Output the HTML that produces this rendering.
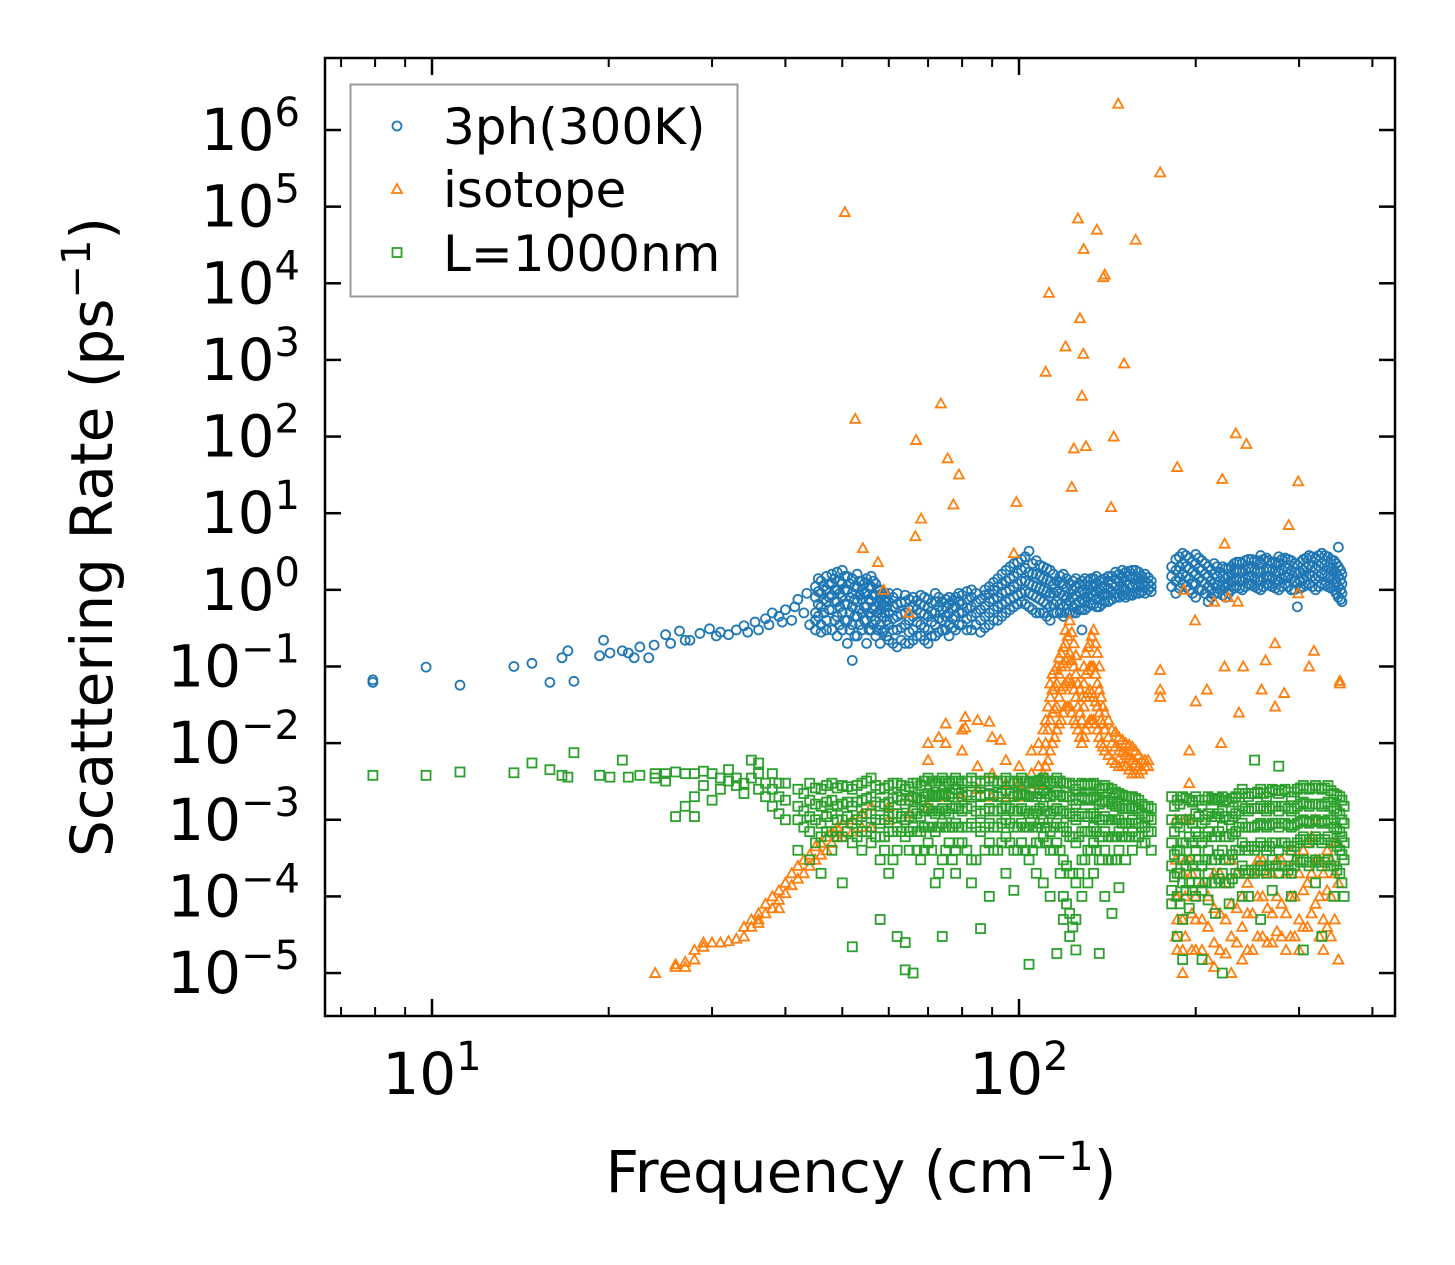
<!DOCTYPE html>
<html><head><meta charset="utf-8">
<style>
html,body{margin:0;padding:0;background:#fff;}
svg{display:block;font-family:"DejaVu Sans","Liberation Sans",sans-serif;}
</style></head>
<body>
<svg id="chart" width="1455" height="1265" viewBox="0 0 1455 1265" xmlns="http://www.w3.org/2000/svg">
<rect width="1455" height="1265" fill="#fff"/>
<g id="marks"></g>
<g id="axes"></g>
<g>
<rect x="350.5" y="84.5" width="387" height="212" fill="#fff" fill-opacity="0.8" stroke="#999" stroke-width="2"/>
<circle cx="397" cy="126" r="4.5" fill="none" stroke="#1f77b4" stroke-width="1.8"/>
<text x="443" y="144" font-size="50">3ph(300K)</text>
<polygon points="397,184 402,193 392,193" fill="none" stroke="#ff7f0e" stroke-width="1.8"/>
<text x="443" y="207" font-size="50">isotope</text>
<rect x="392.5" y="248" width="9" height="9" fill="none" stroke="#2ca02c" stroke-width="1.8"/>
<text x="443" y="271" font-size="50">L=1000nm</text>
</g>
<text x="861" y="1192" font-size="58" text-anchor="middle">Frequency (cm<tspan font-size="40" dy="-22">−1</tspan><tspan dy="22">)</tspan></text>
<text transform="translate(112,537) rotate(-90)" font-size="58" text-anchor="middle">Scattering Rate (ps<tspan font-size="40" dy="-22">−1</tspan><tspan dy="22">)</tspan></text>
</svg>
<script>
// ---- data ----
const xTickValues = [10, 100];
const xTickLabels = ["1", "2"];
const xMinorValues = [7,8,9,20,30,40,50,60,70,80,90,200,300,400];
const yTickValues = [1e6,1e5,1e4,1e3,1e2,1e1,1,1e-1,1e-2,1e-3,1e-4,1e-5];
const yTickLabels = ["6","5","4","3","2","1","0","−1","−2","−3","−4","−5"];

const blueSparse = [[7.93,0.0667],[7.93,0.062],[9.77,0.098],[11.16,0.057],[13.79,0.1],[14.8,0.11],[15.88,0.062],[16.65,0.13],[17.04,0.16],[17.45,0.064],[19.3,0.138],[19.6,0.22],[20.1,0.15],[21.1,0.16],[21.6,0.15],[22.1,0.13],[22.6,0.18],[23.4,0.13],[23.9,0.19],[25,0.26],[25.5,0.2],[26.4,0.29],[27,0.22],[27.5,0.22],[28.6,0.27],[29.7,0.31],[30.5,0.25],[31,0.28],[32,0.26],[33,0.3],[34,0.34],[34.5,0.28],[35.5,0.38],[36,0.3],[37,0.42],[37.5,0.35],[38,0.5],[39,0.45],[39.5,0.38],[40,0.55],[41,0.4],[41.5,0.6],[42,0.75],[43,0.5],[43.5,0.9],[44,0.35]];
const blueDense = [[45,[0.3,0.5,0.8,1.1,0.4]],[46,[0.35,0.6,0.9,1.3,0.28]],[47,[0.4,0.7,1.0,1.5,0.3]],[48,[0.3,0.55,0.85,1.2,1.6]],[49,[0.25,0.45,0.7,1.0,1.7]],[50,[0.3,0.5,0.8,1.2,1.8]],[51,[0.2,0.4,0.65,1.0,1.5]],[52,[0.12,0.35,0.6,0.9,1.4]],[53,[0.25,0.45,0.7,1.1,1.6]],[54,[0.3,0.5,0.75,1.0,1.3]],[55,[0.2,0.4,0.6,0.9,1.4]],[56,[0.3,0.45,0.7,1.1,1.5]],[57,[0.25,0.4,0.6,0.85,1.2]],[58,[0.2,0.35,0.55,0.8,1.0]],[59,[0.3,0.5,0.7,0.9]],[60,[0.22,0.35,0.5,0.7,0.9]],[62,[0.18,0.3,0.45,0.65,0.9]],[64,[0.2,0.35,0.5,0.7,0.85]],[66,[0.22,0.3,0.45,0.6,0.8]],[68,[0.25,0.35,0.5,0.65,0.85]],[70,[0.2,0.3,0.45,0.6,0.75]],[72,[0.25,0.35,0.5,0.7,0.9]],[74,[0.3,0.4,0.55,0.7]],[76,[0.25,0.35,0.5,0.65,0.8]],[78,[0.3,0.45,0.6,0.8]],[80,[0.35,0.5,0.65,0.85]],[83,[0.3,0.45,0.6,0.8,1.0]],[86,[0.28,0.4,0.55,0.75]],[89,[0.35,0.5,0.7,0.9,1.1]],[92,[0.4,0.6,0.8,1.1,1.4]],[95,[0.5,0.7,0.95,1.3,1.8]],[98,[0.6,0.8,1.1,1.5,2.2]],[101,[0.7,0.9,1.3,1.8,2.5]],[104,[0.6,0.9,1.2,1.7,3.2]],[107,[0.5,0.8,1.1,1.6,2.4]],[110,[0.5,0.7,1.0,1.4,2.0]],[113,[0.4,0.6,0.9,1.3,1.8]],[116,[0.5,0.7,0.95,1.3]],[119,[0.45,0.6,0.85,1.2,1.6]],[122,[0.5,0.7,0.9,1.2]],[125,[0.5,0.65,0.85,1.1,1.4]],[128,[0.3,0.55,0.75,1.0,1.3]],[131,[0.6,0.8,1.0,1.3]],[134,[0.65,0.85,1.1,1.4]],[137,[0.6,0.8,1.0,1.3]],[140,[0.7,0.9,1.1,1.4]],[144,[0.75,0.95,1.2,1.5]],[148,[0.8,1.0,1.3,1.6]],[152,[0.8,1.0,1.3,1.7]],[156,[0.85,1.1,1.4,1.8]],[160,[0.9,1.1,1.4,1.7]],[164,[0.9,1.1,1.3,1.6]],[168,[0.95,1.1,1.3]],[185,[0.9,1.3,1.8,2.5]],[190,[1.2,1.6,2.2,3.0]],[195,[1.0,1.4,1.9,2.6]],[200,[0.8,1.2,1.6,2.2,2.9]],[205,[1.0,1.3,1.8,2.4]],[210,[0.7,1.1,1.5,2.0]],[215,[0.9,1.2,1.6,2.2]],[220,[1.0,1.3,1.7]],[225,[0.8,1.1,1.4,1.9]],[230,[1.0,1.3,1.6,2.0]],[235,[1.1,1.4,1.8,2.3]],[240,[1.0,1.3,1.7,2.2]],[246,[1.2,1.5,1.9,2.5]],[252,[1.1,1.4,1.8,2.4]],[258,[1.0,1.3,1.7,2.2,2.8]],[264,[1.2,1.5,1.9,2.6]],[270,[1.1,1.4,1.8,2.3]],[277,[1.0,1.3,1.7,2.2,2.7]],[284,[1.2,1.5,2.0,2.6]],[291,[1.0,1.4,1.8,2.4]],[298,[0.6,1.2,1.6,2.1]],[305,[1.1,1.4,1.8,2.5]],[312,[1.2,1.6,2.1,2.8]],[320,[1.0,1.4,1.9,2.6]],[328,[1.2,1.6,2.2,3.0]],[336,[1.1,1.5,2.0,2.7]],[344,[1.0,1.4,1.8,2.4]],[350,[0.8,1.1,1.5,2.0,3.6]],[355,[0.7,0.9,1.2,1.6]]];
const blueFill = [[45.5,[0.45,0.65,0.95,1.4]],[46.5,[0.5,0.75,1.1]],[47.5,[0.55,0.8,1.2]],[48.5,[0.4,0.7,1.0,1.4]],[49.5,[0.35,0.6,0.9,1.3]],[50.5,[0.4,0.65,1.0,1.5]],[51.5,[0.3,0.5,0.8,1.2]],[52.5,[0.25,0.45,0.75,1.1]],[53.5,[0.35,0.55,0.85,1.3]],[54.5,[0.4,0.6,0.9,1.2]],[55.5,[0.3,0.5,0.75,1.1]],[56.5,[0.35,0.55,0.85,1.3]],[57.5,[0.3,0.5,0.7,1.0]],[58.5,[0.28,0.45,0.65,0.9]],[59.5,[0.25,0.4,0.6,0.8]],[61,[0.2,0.3,0.42,0.6,0.8]],[63,[0.22,0.32,0.48,0.68]],[65,[0.2,0.28,0.4,0.55,0.75]],[67,[0.25,0.38,0.55,0.72]],[69,[0.22,0.32,0.48,0.62,0.8]],[71,[0.25,0.38,0.52,0.68]],[73,[0.28,0.42,0.6,0.8]],[75,[0.3,0.45,0.6,0.75]],[77,[0.32,0.42,0.58,0.72]],[79,[0.35,0.5,0.7,0.9]],[81.5,[0.3,0.42,0.58,0.75,0.95]],[84.5,[0.35,0.5,0.68,0.9]],[87.5,[0.32,0.45,0.62,0.85,1.0]],[90.5,[0.4,0.55,0.75,1.0,1.25]],[93.5,[0.45,0.65,0.9,1.2,1.6]],[96.5,[0.55,0.75,1.0,1.4,2.0]],[99.5,[0.65,0.85,1.2,1.65,2.3]],[102.5,[0.65,0.95,1.3,1.9,2.7]],[105.5,[0.55,0.85,1.15,1.6,2.2]],[108.5,[0.5,0.75,1.05,1.5,2.1]],[111.5,[0.45,0.65,0.95,1.35,1.9]],[114.5,[0.5,0.65,0.9,1.2,1.6]],[117.5,[0.5,0.65,0.9,1.25,1.5]],[120.5,[0.5,0.65,0.8,1.05,1.4]],[123.5,[0.5,0.6,0.8,1.0,1.3]],[126.5,[0.55,0.7,0.95,1.2]],[129.5,[0.55,0.7,0.9,1.15,1.4]],[132.5,[0.65,0.9,1.15,1.4]],[135.5,[0.6,0.75,0.95,1.2,1.5]],[138.5,[0.65,0.85,1.05,1.35]],[142,[0.7,0.85,1.05,1.3,1.5]],[146,[0.8,0.9,1.1,1.4,1.7]],[150,[0.85,1.1,1.45,1.8]],[154,[0.85,1.15,1.5,1.75]],[158,[0.9,1.2,1.5,1.8]],[162,[0.95,1.2,1.5]],[166,[1.0,1.2,1.45]],[182,[1.1,1.5,2.0]],[187.5,[1.05,1.45,2.0,2.7]],[192.5,[1.1,1.5,2.0,2.8]],[197.5,[0.9,1.2,1.7,2.3]],[202.5,[1.0,1.4,1.9,2.6]],[207.5,[0.9,1.2,1.6,2.2]],[212.5,[0.8,1.0,1.3,1.8]],[217.5,[0.9,1.15,1.5,2.0]],[222.5,[0.85,1.15,1.5,2.0]],[227.5,[0.9,1.2,1.5,1.9]],[232.5,[1.05,1.35,1.75,2.2]],[237.5,[1.05,1.35,1.75,2.3]],[243,[1.1,1.4,1.8,2.4]],[249,[1.15,1.45,1.85,2.5]],[255,[1.05,1.35,1.75,2.4]],[261,[1.1,1.4,1.8,2.5]],[267,[1.15,1.45,1.85,2.4]],[273.5,[1.05,1.35,1.75,2.3]],[280.5,[1.1,1.4,1.85,2.5]],[287.5,[1.1,1.45,1.9,2.5]],[294.5,[1.0,1.3,1.7,2.2]],[301.5,[1.05,1.3,1.7,2.3]],[308.5,[1.15,1.5,1.95,2.6]],[316,[1.1,1.5,2.0,2.7]],[324,[1.1,1.5,2.05,2.8]],[332,[1.15,1.55,2.1,2.8]],[340,[1.05,1.45,1.9,2.5]],[347,[0.9,1.25,1.65,2.2]],[353,[0.75,1.0,1.35,1.8]]];

const orangeDense = [[24,[1e-5]],[26,[1.3e-5,1.2e-5]],[27,[1.4e-5,1.2e-5]],[28,[2e-5,1.5e-5]],[29,[2.5e-5,2.2e-5]],[30,[2.5e-5]],[31,[2.5e-5]],[32,[2.6e-5]],[33,[2.8e-5]],[34,[3e-5,4e-5]],[35,[4e-5,5e-5]],[36,[5e-5,6e-5,4.5e-5]],[37,[6e-5,8e-5]],[38,[7e-5,1e-4]],[39,[9e-5,1.2e-4,7e-5]],[40,[1.1e-4,1.5e-4]],[41,[1.4e-4,2e-4]],[42,[1.7e-4,2.5e-4]],[43,[2e-4,3e-4]],[44,[2.5e-4,3.5e-4]],[45,[3e-4,4.5e-4]],[46,[3.5e-4,5e-4]],[47,[4e-4,6e-4]],[48,[5e-4,7e-4]],[49,[6e-4,8e-4]],[50,[6e-4,9e-4]],[52,[7e-4,1e-3]],[54,[8e-4,1.2e-3]],[56,[8e-4,1.5e-3]],[60,[1e-3,1.5e-3]],[65,[1.2e-3,2e-3]],[70,[1.5e-3,1e-2,6e-3]],[75,[2e-3,1.8e-2,1e-2]],[80,[2e-3,8e-3,1.5e-2]],[85,[2.5e-3,5e-3,2e-2]],[90,[2e-3,4e-3,1.2e-2]],[95,[2e-3,3e-3,6e-3]],[100,[2e-3,3e-3,5e-3]],[105,[2.5e-3,4e-3,8e-3]],[108,[3e-3,5e-3,1e-2]],[110,[4e-3,8e-3,1.5e-2]],[112,[6e-3,1.5e-2,3e-2]],[114,[1e-2,2.5e-2,5e-2,8e-2]],[116,[1.5e-2,3e-2,6e-2,1e-1]],[118,[2e-2,5e-2,1e-1,1.5e-1]],[120,[3e-2,6e-2,1.2e-1,2e-1,3e-1]],[122,[3e-2,7e-2,1.5e-1,4e-1]],[124,[2e-2,5e-2,1e-1,2e-1]],[126,[1.5e-2,3e-2,6e-2]],[128,[1e-2,2e-2,4e-2]],[130,[1.5e-2,4e-2,8e-2,1.5e-1]],[132,[2e-2,5e-2,1e-1,2e-1]],[134,[2e-2,4e-2,1e-1,3e-1]],[136,[1.5e-2,3e-2,6e-2,1.5e-1]],[138,[1e-2,2e-2,4e-2]],[140,[8e-3,1.5e-2,2.5e-2]],[144,[6e-3,1e-2,1.5e-2]],[148,[5e-3,8e-3,1.2e-2]],[152,[5e-3,7e-3,1e-2]],[156,[4e-3,6e-3,9e-3]],[160,[4e-3,5e-3,7e-3]],[164,[5e-3,6e-3]],[185,[1e-3,3e-4,1e-4,3e-5]],[190,[2e-4,5e-5,2e-5,1e-5]],[195,[8e-3,3e-3,1e-3,3e-4]],[200,[1e-4,5e-5,2e-5]],[210,[1e-4,4e-5,1.5e-5]],[220,[2e-4,6e-5,2e-5]],[230,[3e-4,8e-5,3e-5,1e-5]],[240,[1e-4,4e-5,1.5e-5]],[250,[2e-4,6e-5,2e-5]],[260,[3e-4,1e-4,3e-5]],[270,[2e-4,6e-5,2.5e-5]],[280,[3e-4,8e-5,3e-5]],[290,[4e-4,1e-4,3e-5]],[300,[2e-4,5e-5,2e-5]],[310,[5e-4,1.5e-4,4e-5]],[320,[1e-3,3e-4,8e-5]],[330,[2e-4,5e-5,2e-5]],[340,[3e-4,1e-4,3e-5]],[350,[5e-4,1.5e-4,1.5e-5]]];
const orangeFill = [[111,[5e-3,1e-2,2e-2]],[113,[8e-3,2e-2,4e-2,6e-2]],[115,[1.2e-2,2.8e-2,5.5e-2,9e-2]],[117,[1.8e-2,4e-2,8e-2,1.3e-1]],[119,[2.5e-2,5.5e-2,1.1e-1,1.8e-1]],[121,[3e-2,6.5e-2,1.3e-1,2.5e-1]],[123,[2.5e-2,6e-2,1.2e-1,2.8e-1]],[125,[1.8e-2,4e-2,8e-2,1.4e-1]],[127,[1.2e-2,2.5e-2,5e-2]],[129,[1.2e-2,3e-2,6e-2,1e-1]],[131,[1.8e-2,4.5e-2,9e-2,1.8e-1]],[133,[2e-2,4.5e-2,1e-1,2.5e-1]],[135,[1.8e-2,3.5e-2,8e-2,2e-1]],[137,[1.2e-2,2.5e-2,5e-2,1e-1]],[139,[9e-3,1.8e-2,3e-2]],[142,[7e-3,1.2e-2,2e-2]],[146,[5.5e-3,9e-3,1.4e-2]],[150,[5e-3,7.5e-3,1.1e-2]],[154,[4.5e-3,6.5e-3,9.5e-3]],[158,[4e-3,5.5e-3,8e-3]],[162,[4.5e-3,6e-3]],[166,[5e-3,6e-3]],[186,[1e-4,5e-5,2e-5]],[192,[1e-3,3e-4,1e-4,3e-5]],[197,[2e-4,6e-5,2e-5]],[205,[1.5e-4,5e-5,2e-5]],[215,[2e-4,7e-5,2.5e-5,1.2e-5]],[225,[1.5e-4,5e-5,1.8e-5]],[235,[2e-4,7e-5,2.5e-5]],[245,[1.5e-4,6e-5,2e-5]],[255,[3e-4,1e-4,3e-5]],[265,[2e-4,7e-5,2.5e-5]],[275,[3e-4,1e-4,3.5e-5]],[285,[2e-4,6e-5,2e-5]],[295,[3e-4,1e-4,3e-5]],[305,[4e-4,1.2e-4,4e-5]],[315,[6e-4,2e-4,6e-5]],[325,[3e-4,1e-4,3e-5]],[335,[4e-4,1.2e-4,4e-5]],[345,[5e-4,2e-4,5e-5]]];
const orangeSparse = [[50.5,8.5e4],[52.6,170],[54.2,3.5],[57.5,2.3],[58.8,1.0],[64.9,0.5],[66.6,5],[68.1,8.5],[66.8,90],[73.6,270],[75.6,52],[79,32],[77.3,13],[99,14],[98,3],[111,700],[112.5,7.5e3],[120,1500],[123,22],[124,70],[126,7e4],[127,3500],[128,340],[128.7,1200],[128.9,2.8e4],[130,75],[135.7,5e4],[139.2,1.2e4],[140,1.3e4],[145,100],[143.5,12],[147.6,2.2e6],[151,900],[158,3.7e4],[174,2.8e5],[186,40],[191,1.0],[199.5,0.4],[174,0.09],[174,0.05],[174,0.04],[200,0.035],[221,0.01],[222,28],[224,4],[234,110],[244,80],[236,0.7],[241,0.1],[237,0.025],[224,0.1],[273,0.2],[273,0.03],[259,0.05],[288,7],[299,26],[299,0.9],[318,0.16],[312,0.1],[352,0.065],[352,0.06],[215,0.7],[227,0.8],[209,0.05],[263,0.12],[283,0.045],[81,0.022],[73,0.012],[81,0.016],[89,0.019],[93,0.011]];

const greenSparse = [[7.93,3.8e-3],[9.77,3.8e-3],[11.16,4.2e-3],[13.79,4.1e-3],[14.8,5.5e-3],[15.88,4.5e-3],[16.65,3.8e-3],[17.04,3.6e-3],[17.45,7.5e-3],[19.3,3.8e-3],[20.1,3.6e-3],[21.1,6e-3],[21.6,3.6e-3],[22.6,3.8e-3]];
const greenDense = [[24,[3.5e-3,4e-3]],[25,[4e-3,3.2e-3]],[26,[4.2e-3,1.1e-3]],[27,[4e-3,1.5e-3]],[28,[2e-3,1.1e-3,4e-3]],[29,[4.3e-3,2.8e-3]],[30,[4e-3,1.8e-3]],[31,[3.5e-3,2.5e-3]],[32,[3.2e-3,4.5e-3]],[33,[2.8e-3,3.5e-3]],[34,[3e-3,2.2e-3]],[35,[6e-3,3.5e-3]],[36,[4e-3,2.5e-3,5.5e-3]],[37,[3e-3,2e-3]],[38,[4e-3,2.5e-3,1.5e-3]],[39,[3e-3,2e-3,1.2e-3]],[40,[3e-3,1.8e-3,1e-3]],[42,[2.5e-3,1.5e-3,1e-3,4e-4]],[44,[3e-3,1.8e-3,1.1e-3,7e-4,3e-4]],[46,[2.5e-3,1.5e-3,9e-4,6e-4,2e-4]],[48,[3e-3,1.8e-3,1.2e-3,7e-4,4e-4]],[50,[2.8e-3,1.6e-3,1e-3,6e-4,1.5e-4]],[52,[2.5e-3,1.5e-3,9e-4,5e-4,2.2e-5]],[54,[3e-3,1.8e-3,1.1e-3,7e-4,4e-4]],[56,[3.5e-3,2e-3,1.2e-3,8e-4,5e-4]],[58,[2.5e-3,1.5e-3,9e-4,6e-4,3e-4,5e-5]],[60,[2.8e-3,1.7e-3,1.1e-3,7e-4,2e-4]],[62,[3e-3,2e-3,1.2e-3,8e-4,4e-4,3e-5]],[64,[2.5e-3,1.6e-3,1e-3,6e-4,2.5e-5,1.1e-5]],[66,[3e-3,2e-3,1.3e-3,8e-4,1e-5]],[68,[2.8e-3,1.8e-3,1.1e-3,7e-4,3e-4]],[70,[3.5e-3,2.2e-3,1.4e-3,8e-4,5e-4]],[72,[3e-3,2e-3,1.2e-3,7e-4,1.5e-4]],[74,[3.5e-3,2.2e-3,1.4e-3,9e-4,3e-4,3e-5]],[76,[3e-3,2e-3,1.2e-3,8e-4,5e-4]],[78,[3.5e-3,2.5e-3,1.5e-3,9e-4,4e-4,2e-4]],[80,[3e-3,2e-3,1.3e-3,8e-4,5e-4]],[83,[3.5e-3,2.3e-3,1.5e-3,9e-4,3e-4,1.5e-4]],[86,[3e-3,2e-3,1.2e-3,7e-4,3.8e-5]],[89,[3.5e-3,2.2e-3,1.4e-3,9e-4,5e-4,1e-4]],[92,[3e-3,2e-3,1.3e-3,8e-4,4e-4]],[95,[3.5e-3,2.4e-3,1.5e-3,1e-3,6e-4,2e-4]],[98,[3e-3,2e-3,1.3e-3,8e-4,4e-4,1.2e-4]],[101,[3.5e-3,2.2e-3,1.4e-3,9e-4,5e-4]],[104,[3e-3,2e-3,1.2e-3,8e-4,3e-4,1.3e-5]],[107,[3.2e-3,2e-3,1.3e-3,8e-4,5e-4,2e-4]],[110,[3.5e-3,2.4e-3,1.5e-3,1e-3,6e-4,1.5e-4]],[113,[3e-3,2e-3,1.2e-3,7e-4,4e-4,1e-4]],[116,[3.5e-3,2.3e-3,1.4e-3,9e-4,5e-4,1.8e-5]],[119,[3e-3,2e-3,1.3e-3,8e-4,3e-4,1e-4,5e-5]],[122,[3e-3,2e-3,1.2e-3,6e-4,2e-4,6e-5,3e-5]],[125,[2.5e-3,1.6e-3,1e-3,5e-4,1.5e-4,5e-5,2e-5]],[128,[3e-3,2e-3,1.2e-3,7e-4,3e-4,1e-4]],[131,[2.8e-3,1.8e-3,1.1e-3,7e-4,4e-4,1.5e-4]],[134,[3e-3,2e-3,1.2e-3,8e-4,5e-4,2e-4]],[137,[2.5e-3,1.6e-3,1e-3,6e-4,3e-4,1.8e-5]],[140,[2.8e-3,1.8e-3,1.1e-3,7e-4,4e-4,1e-4]],[144,[2.5e-3,1.6e-3,1e-3,6e-4,3e-4,6e-5]],[148,[2.2e-3,1.5e-3,1e-3,7e-4,4e-4,1.3e-4]],[152,[2e-3,1.4e-3,9e-4,6e-4,3e-4]],[156,[2e-3,1.5e-3,1e-3,7e-4,4e-4]],[160,[1.8e-3,1.3e-3,9e-4,6e-4]],[164,[1.5e-3,1.1e-3,8e-4,5e-4]],[168,[1.4e-3,1e-3,7e-4,4e-4]],[182,[2e-3,1e-3,5e-4,2.5e-4,1.2e-4,8e-5]],[186,[1.8e-3,9e-4,4e-4,2e-4,1e-4,3e-5]],[190,[2e-3,1e-3,5e-4,3e-4,1.5e-4,5e-5,1.5e-5]],[195,[1.8e-3,1e-3,6e-4,3e-4,1.5e-4,7e-5]],[200,[2e-3,1.2e-3,7e-4,4e-4,2e-4,1e-4]],[205,[1.5e-3,9e-4,5e-4,2.5e-4,1.2e-4,1.5e-5]],[210,[2e-3,1.2e-3,7e-4,4e-4,2e-4,9e-5]],[216,[1.8e-3,1.1e-3,6e-4,3e-4,1.5e-4,6e-5]],[222,[2e-3,1.3e-3,8e-4,4e-4,2e-4,1e-5]],[228,[1.7e-3,1e-3,6e-4,3e-4,1.5e-4,8e-5]],[234,[2e-3,1.2e-3,7e-4,4e-4,2e-4]],[240,[2.5e-3,1.5e-3,9e-4,5e-4,2.5e-4,1e-4]],[246,[2e-3,1.3e-3,8e-4,4e-4,2e-4,1e-4]],[252,[6e-3,2.2e-3,1.4e-3,8e-4,4e-4,2e-4]],[258,[2.5e-3,1.5e-3,9e-4,5e-4,2.5e-4,5e-5]],[264,[2e-3,1.3e-3,8e-4,4e-4,2e-4]],[270,[2.5e-3,1.5e-3,9e-4,5e-4,3e-4,1.2e-4]],[277,[5e-3,2.2e-3,1.3e-3,8e-4,4e-4,2e-4]],[284,[2.5e-3,1.5e-3,9e-4,5e-4,2.5e-4]],[291,[2e-3,1.3e-3,8e-4,4e-4,2e-4,1e-4]],[298,[2.5e-3,1.5e-3,9e-4,5e-4,3e-4]],[305,[2.8e-3,1.7e-3,1e-3,6e-4,3e-4,2e-5]],[312,[2.5e-3,1.5e-3,9e-4,5e-4,2.5e-4]],[320,[2.8e-3,1.6e-3,1e-3,6e-4,3e-4,1.5e-4]],[328,[2.5e-3,1.5e-3,9e-4,5e-4,2.5e-4,3e-5]],[336,[2.8e-3,1.7e-3,1e-3,6e-4,3e-4]],[344,[2.2e-3,1.4e-3,8e-4,5e-4,2.5e-4,1e-4]],[352,[2e-3,1.2e-3,7e-4,4e-4,2e-4]],[358,[1.5e-3,9e-4,5e-4,3e-4,1e-4]]];
const greenFill = [[43,[2.2e-3,1.3e-3,8e-4]],[45,[2.6e-3,1.6e-3,1e-3,5e-4]],[47,[2.8e-3,1.7e-3,1.1e-3,7e-4]],[49,[2.6e-3,1.5e-3,1e-3,6e-4]],[51,[2.7e-3,1.7e-3,1.1e-3,7e-4]],[53,[2.8e-3,1.7e-3,1e-3,6e-4]],[55,[3.2e-3,1.9e-3,1.2e-3,7e-4]],[57,[2.8e-3,1.7e-3,1e-3,6e-4]],[59,[2.6e-3,1.6e-3,1e-3,6e-4,4e-4]],[61,[3e-3,1.9e-3,1.2e-3,7e-4,3e-4]],[63,[2.8e-3,1.8e-3,1.1e-3,7e-4]],[65,[2.7e-3,1.8e-3,1.1e-3,7e-4,4e-4]],[67,[3e-3,1.9e-3,1.2e-3,7e-4,4e-4]],[69,[3.2e-3,2e-3,1.3e-3,8e-4,4e-4]],[71,[3.2e-3,2.1e-3,1.3e-3,8e-4,4e-4]],[73,[3.2e-3,2.1e-3,1.3e-3,8e-4,2e-4]],[75,[3.2e-3,2.1e-3,1.3e-3,8e-4,4e-4]],[77,[3.2e-3,2.2e-3,1.4e-3,8e-4,3e-4]],[79,[3.2e-3,2.2e-3,1.4e-3,8e-4,5e-4]],[81.5,[3.2e-3,2.1e-3,1.4e-3,8e-4,4e-4]],[84.5,[3.2e-3,2.1e-3,1.3e-3,8e-4,3e-4]],[87.5,[3.2e-3,2.1e-3,1.3e-3,8e-4,4e-4]],[90.5,[3.2e-3,2.1e-3,1.3e-3,8e-4,4e-4]],[93.5,[3.2e-3,2.2e-3,1.4e-3,9e-4,5e-4]],[96.5,[3.2e-3,2.2e-3,1.4e-3,9e-4,5e-4]],[99.5,[3.2e-3,2.1e-3,1.3e-3,8e-4,4e-4]],[102.5,[3.2e-3,2.1e-3,1.3e-3,8e-4,4e-4]],[105.5,[3.1e-3,2e-3,1.2e-3,8e-4,4e-4]],[108.5,[3.3e-3,2.2e-3,1.4e-3,9e-4,5e-4]],[111.5,[3.2e-3,2.2e-3,1.3e-3,8e-4,5e-4]],[114.5,[3.2e-3,2.1e-3,1.3e-3,8e-4,4e-4]],[117.5,[3.2e-3,2.1e-3,1.3e-3,8e-4,4e-4,2e-4]],[120.5,[3e-3,2e-3,1.2e-3,7e-4,2.5e-4,8e-5]],[123.5,[2.8e-3,1.8e-3,1.1e-3,6e-4,2e-4,4e-5]],[126.5,[2.8e-3,1.8e-3,1.1e-3,6e-4,2e-4]],[129.5,[2.9e-3,1.9e-3,1.1e-3,7e-4,3e-4]],[132.5,[2.9e-3,1.9e-3,1.2e-3,7e-4,4e-4]],[135.5,[2.8e-3,1.8e-3,1.1e-3,7e-4,4e-4]],[138.5,[2.6e-3,1.7e-3,1e-3,6e-4,3e-4]],[142,[2.6e-3,1.7e-3,1e-3,6e-4,3e-4]],[146,[2.3e-3,1.5e-3,1e-3,6e-4,3e-4]],[150,[2.1e-3,1.4e-3,9e-4,6e-4]],[154,[2e-3,1.4e-3,9e-4,6e-4]],[158,[1.9e-3,1.4e-3,9e-4,6e-4]],[162,[1.6e-3,1.2e-3,8e-4,5e-4]],[166,[1.5e-3,1.1e-3,7e-4]],[184,[1.5e-3,7e-4,3.5e-4,1.8e-4]],[188,[1.6e-3,8e-4,4e-4,2e-4,8e-5]],[192.5,[1.9e-3,1e-3,5e-4,2.5e-4,1.2e-4]],[197.5,[1.7e-3,9e-4,5e-4,2.5e-4,1.2e-4]],[202.5,[1.8e-3,1.1e-3,6e-4,3e-4,1.5e-4]],[207.5,[1.8e-3,1e-3,6e-4,3e-4,1.5e-4]],[213,[1.9e-3,1.1e-3,6e-4,3e-4,1.5e-4]],[219,[1.9e-3,1.2e-3,7e-4,3.5e-4,1.7e-4]],[225,[1.8e-3,1.1e-3,6e-4,3e-4,1.5e-4]],[231,[1.9e-3,1.1e-3,6.5e-4,3.5e-4,1.7e-4]],[237,[2.2e-3,1.3e-3,8e-4,4e-4,2e-4]],[243,[2.2e-3,1.4e-3,8e-4,4.5e-4,2.2e-4]],[249,[2.2e-3,1.4e-3,8e-4,4.5e-4,2.2e-4]],[255,[2.3e-3,1.4e-3,8.5e-4,4.5e-4,2.2e-4]],[261,[2.2e-3,1.4e-3,8.5e-4,4.5e-4,2.2e-4]],[267,[2.3e-3,1.4e-3,8.5e-4,4.5e-4,2.5e-4]],[273.5,[2.4e-3,1.5e-3,9e-4,5e-4,2.5e-4]],[280.5,[2.4e-3,1.5e-3,9e-4,5e-4,2.5e-4]],[287.5,[2.3e-3,1.4e-3,8.5e-4,4.5e-4,2.2e-4]],[294.5,[2.3e-3,1.4e-3,8.5e-4,4.5e-4,2.5e-4]],[301.5,[2.6e-3,1.6e-3,9.5e-4,5.5e-4,2.8e-4]],[308.5,[2.6e-3,1.6e-3,9.5e-4,5.5e-4,2.8e-4]],[316,[2.6e-3,1.6e-3,9.5e-4,5.5e-4,2.8e-4]],[324,[2.6e-3,1.6e-3,9.5e-4,5.5e-4,2.8e-4]],[332,[2.6e-3,1.6e-3,9.5e-4,5.5e-4,2.8e-4]],[340,[2.4e-3,1.5e-3,9e-4,5e-4,2.5e-4]],[348,[2.1e-3,1.3e-3,7.5e-4,4.5e-4,2.2e-4]],[355,[1.8e-3,1e-3,6e-4,3.5e-4,1.5e-4]]];

// ---- axes ----
const PL=325, PR=1395, PT=58, PB=1016;
function xScale(f){ return 432 + (Math.log10(f)-1)*587; }
function yScale(v){ return 130 + (6-Math.log10(v))*76.64; }
const NS="http://www.w3.org/2000/svg";
function mk(tag, attrs, parent){ const e=document.createElementNS(NS,tag); for(const k in attrs) e.setAttribute(k,attrs[k]); parent.appendChild(e); return e; }

const marks=document.getElementById('marks');
function flatten(sparse, dense){ const out=sparse.slice(); dense.forEach(d=>d[1].forEach(v=>out.push([d[0],v]))); return out; }

const gB=mk('g',{fill:'none',stroke:'#1f77b4','stroke-width':1.8},marks);


flatten(blueSparse,blueDense.concat(blueFill)).forEach(p=>{
  const c=mk('circle',{cx:xScale(p[0]),cy:yScale(p[1]),r:4.5},gB);
  
  
});
const gO=mk('g',{fill:'none',stroke:'#ff7f0e','stroke-width':1.8},marks);


flatten(orangeSparse,orangeDense.concat(orangeFill)).forEach(p=>{
  const x=xScale(p[0]), y=yScale(p[1]);
  const t=mk('polygon',{points:`${x},${y-5} ${x+5},${y+4} ${x-5},${y+4}`},gO);
  
  
});
const gG=mk('g',{fill:'none',stroke:'#2ca02c','stroke-width':1.8},marks);


flatten(greenSparse,greenDense.concat(greenFill)).forEach(p=>{
  const x=xScale(p[0]), y=yScale(p[1]);
  const s=mk('rect',{x:x-4.5,y:y-4.5,width:9,height:9},gG);
  
  
});

const ax=document.getElementById('axes');
const frame=mk('rect',{x:PL,y:PT,width:PR-PL,height:PB-PT,fill:'none',stroke:'#000','stroke-width':2.5},ax);


xTickValues.forEach((v,i)=>{
  const x=xScale(v);
  const t1=mk('line',{x1:x,x2:x,y1:PB,y2:PB-17,stroke:'#000','stroke-width':2.5},ax);
  
  
  const t2=mk('line',{x1:x,x2:x,y1:PT,y2:PT+17,stroke:'#000','stroke-width':2.5},ax);
  
  
  const lab=mk('text',{x:x,y:1094,'font-size':58,'text-anchor':'middle'},ax);
  
  
  lab.innerHTML='10<tspan font-size="40" dy="-24">'+xTickLabels[i]+'</tspan>';
});
xMinorValues.forEach(v=>{
  const x=xScale(v); if(x<PL||x>PR) return;
  const t1=mk('line',{x1:x,x2:x,y1:PB,y2:PB-9,stroke:'#000','stroke-width':2},ax);
  
  
  const t2=mk('line',{x1:x,x2:x,y1:PT,y2:PT+9,stroke:'#000','stroke-width':2},ax);
  
  
});
yTickValues.forEach((v,i)=>{
  const y=yScale(v);
  const t1=mk('line',{x1:PL,x2:PL+16,y1:y,y2:y,stroke:'#000','stroke-width':2.5},ax);
  
  
  const t2=mk('line',{x1:PR,x2:PR-16,y1:y,y2:y,stroke:'#000','stroke-width':2.5},ax);
  
  
  const lab=mk('text',{x:300,y:y+20,'font-size':58,'text-anchor':'end'},ax);
  
  
  lab.innerHTML='10<tspan font-size="40" dy="-24">'+yTickLabels[i]+'</tspan>';
});
</script>
</body></html>
